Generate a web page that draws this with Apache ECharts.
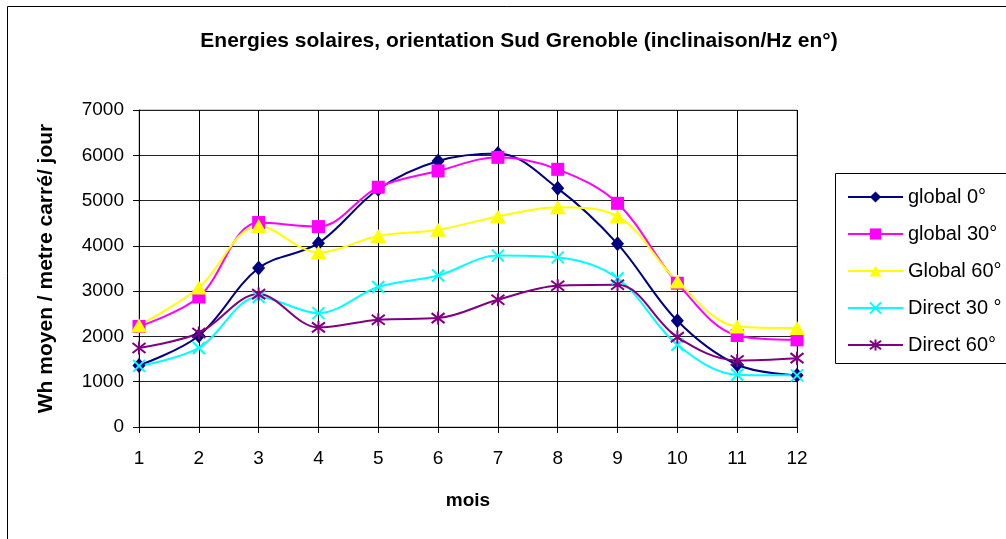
<!DOCTYPE html>
<html>
<head>
<meta charset="utf-8">
<script src="https://cdn.jsdelivr.net/npm/echarts@6/dist/echarts.min.js"></script>
<style>
html, body { margin: 0; padding: 0; background: #fff; }
#chart { width: 1006px; height: 539px; }
</style>
</head>
<body>
<div id="chart"></div>
<script>
var mois = ['1', '2', '3', '4', '5', '6', '7', '8', '9', '10', '11', '12'];

var global0 = [1360, 2015, 3510, 4060, 5250, 5875, 6040, 5270, 4045, 2345, 1375, 1140];
var global30 = [2220, 2870, 4515, 4425, 5295, 5655, 5955, 5690, 4940, 3175, 2020, 1925];
var global60 = [2240, 3080, 4440, 3855, 4220, 4355, 4650, 4855, 4650, 3215, 2220, 2185];
var direct30 = [1350, 1745, 2870, 2515, 3090, 3345, 3785, 3745, 3285, 1815, 1155, 1140];
var direct60 = [1745, 2075, 2935, 2200, 2370, 2405, 2810, 3120, 3140, 1985, 1470, 1520];

var yTicks = { min: 0, max: 7000, interval: 1000 };

var font = 'Arial, "Liberation Sans", sans-serif';

function serie(name, data, color, symbol, size, stroke) {
	return {
		name: name,
		type: 'line',
		data: data,
		smooth: 0.35,
		symbol: symbol,
		symbolSize: size,
		showAllSymbol: true,
		lineStyle: { color: color, width: 2 },
		itemStyle: stroke ? { color: color, borderColor: color, borderWidth: 2 } : { color: color, borderWidth: 0 },
		emphasis: { disabled: true }
	};
}

var option = {
	animation: false,
	title: {
		text: 'Energies solaires, orientation Sud Grenoble (inclinaison/Hz en°)',
		left: 514,
		textAlign: 'center',
		top: 26,
		textStyle: { fontFamily: font, fontSize: 21, fontWeight: 'bold', color: '#000' }
	},
	legend: {
		orient: 'vertical',
		left: 842,
		top: 182,
		itemWidth: 55,
		itemHeight: 14,
		itemGap: 17,
		textStyle: { fontFamily: font, fontSize: 20, color: '#000' },
		data: ['global 0°', 'global 30°', 'Global 60°', 'Direct 30 °', 'Direct 60°']
	},
	graphic: [
		{ type: 'rect', shape: { x: 7.5, y: 6.5, width: 1100, height: 600 }, style: { fill: 'none', stroke: '#000', lineWidth: 1 }, silent: true, z: -10 },
		{ type: 'rect', shape: { x: 835.5, y: 173.5, width: 200, height: 190 }, style: { fill: 'none', stroke: '#000', lineWidth: 1 }, silent: true, z: -10 }
	],
	grid: {
		left: 139,
		right: 209,
		top: 110,
		bottom: 112,
		show: true,
		borderColor: '#999',
		borderWidth: 1
	},
	xAxis: {
		type: 'category',
		data: mois,
		boundaryGap: false,
		name: 'mois',
		nameLocation: 'middle',
		nameGap: 64,
		nameTextStyle: { fontFamily: font, fontSize: 19, fontWeight: 'bold', color: '#000' },
		axisLine: { lineStyle: { color: '#000' } },
		axisTick: { alignWithLabel: true, length: 6, lineStyle: { color: '#000' } },
		axisLabel: { fontFamily: font, fontSize: 19, color: '#000', margin: 22 },
		splitLine: { show: true, lineStyle: { color: '#000', width: 1 } }
	},
	yAxis: {
		type: 'value',
		min: yTicks.min,
		max: yTicks.max,
		interval: yTicks.interval,
		name: 'Wh moyen / metre carré/ jour',
		nameLocation: 'middle',
		nameGap: 82,
		nameTextStyle: { fontFamily: font, fontSize: 21, fontWeight: 'bold', color: '#000' },
		axisLine: { show: true, lineStyle: { color: '#000' } },
		axisTick: { show: true, length: 6, lineStyle: { color: '#000' } },
		axisLabel: { fontFamily: font, fontSize: 19, color: '#000', margin: 15, formatter: function (v) { return String(v); } },
		splitLine: { show: true, lineStyle: { color: '#222', width: 1 } }
	},
	series: [
		serie('global 0°', global0, '#000080', 'diamond', [13, 15], false),
		serie('global 30°', global30, '#FF00FF', 'rect', 13, false),
		serie('Global 60°', global60, '#FFFF00', 'triangle', [16, 14], false),
		serie('Direct 30 °', direct30, '#00FFFF', 'path://M0,0L10,10M10,0L0,10', 12, true),
		serie('Direct 60°', direct60, '#800080', 'path://M0,0L10,10M10,0L0,10M5,-1.5L5,11.5', 13, true)
	]
};

var chart = echarts.init(document.getElementById('chart'));
chart.setOption(option);
</script>
</body>
</html>
